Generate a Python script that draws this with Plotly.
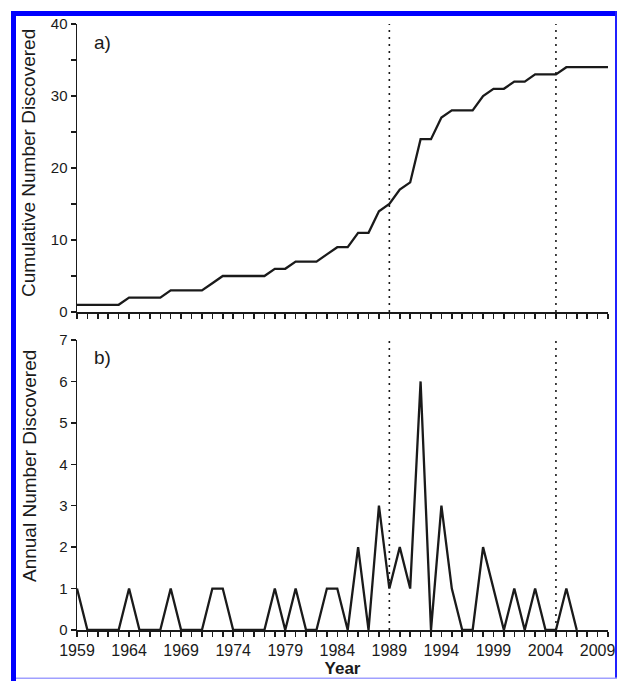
import plotly.graph_objects as go
from plotly.subplots import make_subplots

years = list(range(1959, 2011))
annual = [1, 0, 0, 0, 0, 1, 0, 0, 0, 1,   # 1959-1968
          0, 0, 0, 1, 1, 0, 0, 0, 0, 1,   # 1969-1978
          0, 1, 0, 0, 1, 1, 0, 2, 0, 3,   # 1979-1988
          1, 2, 1, 6, 0, 3, 1, 0, 0, 2,   # 1989-1998
          1, 0, 1, 0, 1, 0, 0, 1, 0, 0,   # 1999-2008
          0, 0]                            # 2009-2010
cumulative = []
_tot = 0
for v in annual:
    _tot += v
    cumulative.append(_tot)

marker_years = [1989, 2005]
x_tick_years = list(range(1959, 2010, 5))
x_tick_labels = [str(y) for y in x_tick_years]

W, H = 617, 681
L, R, T, B = 77, 9, 24, 51
pw, ph = W - L - R, H - T - B

def px(x):
    return (x - L) / pw

def py(y):
    return (H - B - y) / ph

fig = make_subplots(rows=2, cols=1, shared_xaxes=False, vertical_spacing=0.0)

ink = "#1a1a1a"
line_style = dict(color=ink, width=2.3)
fig.add_trace(go.Scatter(x=years, y=cumulative, mode="lines", line=line_style,
                         showlegend=False, hoverinfo="skip"), row=1, col=1)
fig.add_trace(go.Scatter(x=years[:49], y=annual[:49], mode="lines", line=line_style,
                         showlegend=False, hoverinfo="skip"), row=2, col=1)

font = dict(family="Liberation Sans, Arial, sans-serif", color=ink)

xcommon = dict(range=[1959, 2010], showgrid=False, zeroline=False, showline=True,
               linecolor=ink, linewidth=1.5, ticks="outside", ticklen=5,
               tickwidth=1.5, tickcolor=ink, automargin=False,
               minor=dict(ticks="outside", ticklen=5, tickwidth=1.5,
                          tickcolor=ink, dtick=1, tick0=1959),
               tickfont=dict(size=16, **font))
fig.update_xaxes(**xcommon, tick0=1959, dtick=5, showticklabels=False, row=1, col=1)
fig.update_xaxes(**xcommon, tickvals=x_tick_years, ticktext=x_tick_labels,
                 title=dict(text="<b>Year</b>", font=dict(size=17, **font), standoff=2),
                 row=2, col=1)

ycommon = dict(showgrid=False, zeroline=False, showline=True, linecolor=ink,
               linewidth=1.5, ticks="outside", ticklen=5, tickwidth=1.5,
               tickcolor=ink, automargin=False, tickfont=dict(size=15, **font))
fig.update_yaxes(**ycommon, range=[0, 40], dtick=10,
                 minor=dict(ticks="outside", ticklen=5, tickwidth=1.5,
                            tickcolor=ink, dtick=5),
                 domain=[py(312), 1.0], row=1, col=1)
fig.update_yaxes(**ycommon, range=[0, 7], dtick=1,
                 domain=[0.0, py(340)], row=2, col=1)
fig.update_xaxes(domain=[0, 1])

shapes = []
for yr in marker_years:
    for xr, yr_ref in (("x", "y domain"), ("x2", "y2 domain")):
        shapes.append(dict(type="line", xref=xr, yref=yr_ref, x0=yr, x1=yr, y0=0, y1=1,
                           line=dict(color=ink, width=1.6, dash="2px,5px")))
# page border
shapes.append(dict(type="rect", xref="paper", yref="paper", x0=px(11), x1=px(617),
                   y0=py(16), y1=py(11), fillcolor="#0000ff", line=dict(width=0)))
shapes.append(dict(type="rect", xref="paper", yref="paper", x0=px(11), x1=px(16),
                   y0=py(681), y1=py(11), fillcolor="#0000ff", line=dict(width=0)))
shapes.append(dict(type="rect", xref="paper", yref="paper", x0=px(615), x1=px(617),
                   y0=py(679), y1=py(11), fillcolor="#2020ff", line=dict(width=0)))
shapes.append(dict(type="rect", xref="paper", yref="paper", x0=px(16), x1=px(617),
                   y0=py(679), y1=py(677.5), fillcolor="#a0a0ff", line=dict(width=0)))

annotations = [
    dict(text="a)", x=px(92), y=py(42), xref="paper", yref="paper", showarrow=False,
         xanchor="left", yanchor="middle", font=dict(size=19, **font)),
    dict(text="b)", x=px(92), y=py(357), xref="paper", yref="paper", showarrow=False,
         xanchor="left", yanchor="middle", font=dict(size=19, **font)),
    dict(text="Cumulative Number Discovered", x=px(29), y=py(163), xref="paper",
         yref="paper", showarrow=False, textangle=-90, xanchor="center",
         yanchor="middle", font=dict(size=19, **font)),
    dict(text="Annual Number Discovered", x=px(29), y=py(466), xref="paper",
         yref="paper", showarrow=False, textangle=-90, xanchor="center",
         yanchor="middle", font=dict(size=19, **font)),
]

fig.update_layout(width=W, height=H, margin=dict(l=L, r=R, t=T, b=B, autoexpand=False),
                  plot_bgcolor="white", paper_bgcolor="white", hovermode=False,
                  shapes=shapes, annotations=annotations, font=font)

fig.write_html(
    "out.html",
    config={"displayModeBar": False, "staticPlot": True},
    post_script=("document.body.style.margin='0';"
                 "document.body.style.overflow='hidden';"
                 "document.documentElement.style.overflow='hidden';"),
)
